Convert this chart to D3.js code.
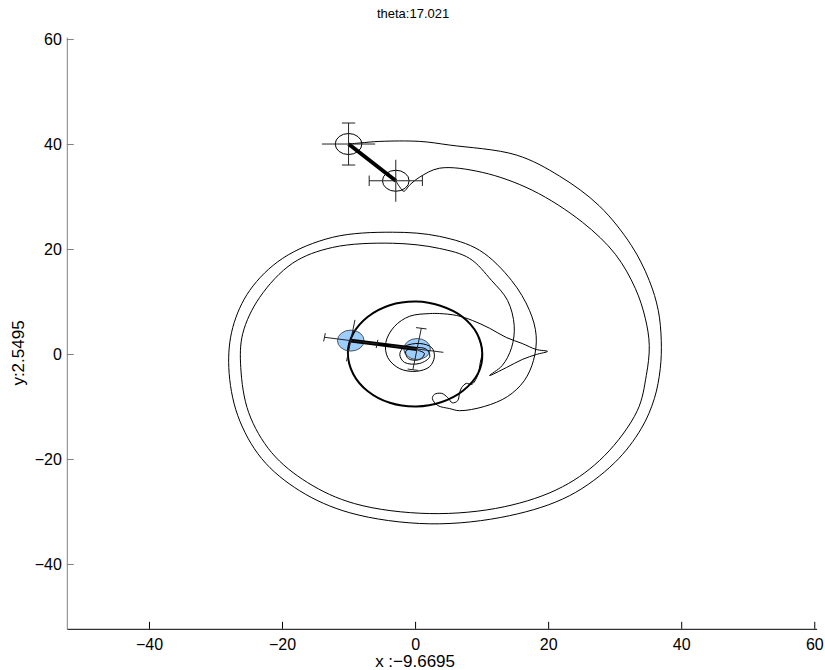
<!DOCTYPE html>
<html>
<head>
<meta charset="utf-8">
<script src="https://cdn.jsdelivr.net/npm/d3@7"></script>
<style>
  body { margin: 0; background: #fff; }
  svg { display: block; font-family: "Liberation Sans", Arial, sans-serif; }
  .trace { fill: none; stroke: #000; stroke-width: 1; }
  .ring { fill: none; stroke: #000; stroke-width: 2; }
  .err { stroke: #222; stroke-width: 1; }
  .rod { stroke: #000; stroke-width: 4; stroke-linecap: butt; }
</style>
</head>
<body>
<div id="chart"></div>
<script>
// axis ticks
var xTicks = [-40, -20, 0, 20, 40, 60];
var yTicks = [-40, -20, 0, 20, 40, 60];

var titleText = "theta:17.021";
var xLabelText = "x :\u22129.6695";
var yLabelText = "y:2.5495";

// trace of the upper rod's first end (data units)
var traceA = [
  [-10.0, 40.0], [-8.3, 40.2], [-5.3, 40.5], [0.7, 40.5], [5.2, 39.8], [15.24, 37.9],
  [21.7, 33.9], [27.7, 28.2], [32.5, 20.7], [35.2, 14.0], [36.55, 8.3], [37.0, 2.6],
  [36.85, -2.8], [35.96, -8.5], [34.0, -14.2], [30.0, -20.7], [23.2, -27.0], [14.2, -30.8],
  [2.2, -32.35], [-9.8, -30.25], [-17.35, -26.05], [-23.05, -19.94], [-26.65, -11.74],
  [-28.0, -2.58], [-27.4, 5.06], [-24.85, 12.12], [-19.9, 18.23], [-12.4, 22.23],
  [-3.4, 23.2], [3.7, 22.4], [9.7, 19.75], [14.5, 14.0], [17.2, 8.3], [18.2, 3.5],
  [17.8, -1.2], [16.4, -5.1], [13.9, -8.1], [10.4, -10.0], [6.7, -10.8], [5.2, -10.4],
  [3.4, -9.8], [2.6, -8.5], [2.9, -7.7], [4.0, -7.5], [4.9, -8.3], [5.6, -9.3], [6.4, -8.9],
  [6.7, -7.35], [7.0, -6.4], [7.7, -5.6], [8.5, -5.8], [9.4, -4.1], [9.8, -1.6],
  [10.1, 0.7], [9.5, 3.15]
];

// trace of the upper rod's second end
var traceB = [
  [-2.9, 33.0], [-2.3, 31.8], [-1.7, 31.0], [-0.8, 32.2], [0.7, 33.7], [3.7, 35.4],
  [10.1, 34.6], [17.6, 31.2], [25.15, 25.1], [30.1, 19.0], [33.1, 12.5], [34.6, 6.8],
  [35.2, 1.6], [34.75, -4.1], [33.4, -10.8], [28.45, -19.4], [22.15, -25.3], [13.4, -29.1],
  [2.2, -30.4], [-9.1, -28.5], [-16.15, -24.5], [-21.55, -18.8], [-25.0, -11.2],
  [-26.2, -2.6], [-25.9, 3.9], [-23.35, 10.8], [-18.4, 17.3], [-12.4, 20.3], [-3.4, 21.1],
  [3.7, 20.1], [8.2, 18.2], [11.5, 14.0], [13.9, 10.2], [14.9, 5.4], [14.5, 1.2],
  [13.1, -2.2], [11.2, -4.1], [13.7, -2.6], [16.1, -1.05], [18.2, -0.1], [19.9, 0.5],
  [18.2, 0.86], [16.1, 2.0], [13.7, 3.15], [11.2, 4.9], [8.6, 6.4], [6.2, 7.35], [3.7, 7.7],
  [2.2, 7.7], [-0.8, 7.2], [-3.1, 5.25], [-4.4, 2.2], [-4.1, -0.7], [-2.3, -2.8],
  [0.2, -3.3], [2.2, -2.4], [2.9, -0.5], [2.5, 1.2], [0.7, 2.0], [-1.6, 1.4], [-2.3, -0.1],
  [-1.6, -1.6], [0.7, -1.8], [2.2, -0.5], [1.7, 0.9], [0.0, 1.2], [-1.4, 0.5], [-1.0, -0.9],
  [0.7, -1.05], [1.4, 0.1], [0.4, 0.7]
];

// the heavy circle round the origin
var ring = [
  [10.1, 0.1], [9.3, 3.9], [7.1, 7.1], [3.8, 9.2], [0.2, 10.0], [-3.8, 9.3], [-7.1, 7.1],
  [-9.3, 3.9], [-10.1, 0.3], [-9.3, -3.8], [-7.1, -7.1], [-3.8, -9.3], [0.2, -10.0],
  [3.9, -9.2], [7.2, -7.0], [9.5, -3.6]
];

var topRod = [[-10.0, 40.0], [-2.9, 33.0]];
var midRod = [[-9.67, 2.55], [0.3, 0.95]];
var bobRadius = 2;
var armLen = 4;

var margin = { top: 37.2, right: 8.4, bottom: 41.2, left: 66.8 },
    width = 825 - margin.left - margin.right,
    height = 670 - margin.top - margin.bottom;

var svg = d3.select("#chart")
    .append("svg")
    .attr("width", 825)
    .attr("height", 670)
    .append("g")
    .attr("transform", "translate(" + margin.left + "," + margin.top + ")");

var x = d3.scaleLinear().domain([-52.35, 60.35]).range([0, width]);
var y = d3.scaleLinear().domain([-52.35, 60.35]).range([height, 0]);
var kx = x(1) - x(0), ky = y(0) - y(1);

// axes (ticks point inward, no box)
var gx = svg.append("g")
    .attr("transform", "translate(0," + height + ")")
    .call(d3.axisBottom(x).tickValues(xTicks).tickSizeInner(-7).tickSizeOuter(0).tickPadding(10));
gx.select(".domain").attr("stroke", "#000");
gx.selectAll(".tick line").attr("stroke", "#000");

var gy = svg.append("g")
    .call(d3.axisLeft(y).tickValues(yTicks).tickSizeInner(-7).tickSizeOuter(0).tickPadding(5));
gy.select(".domain").attr("stroke", "#808080");
gy.selectAll(".tick line").attr("stroke", "#808080");

svg.selectAll(".tick text")
    .attr("font-family", "'Liberation Sans', Arial, sans-serif")
    .attr("font-size", 16)
    .attr("fill", "#000");

// blue bob fills go under the traces
svg.selectAll(".bobfill")
    .data(midRod)
    .enter().append("ellipse")
    .attr("cx", function(d) { return x(d[0]); })
    .attr("cy", function(d) { return y(d[1]); })
    .attr("rx", bobRadius * kx)
    .attr("ry", bobRadius * ky)
    .attr("fill", "#9cceff");

var line = d3.line()
    .x(function(d) { return x(d[0]); })
    .y(function(d) { return y(d[1]); })
    .curve(d3.curveCatmullRom.alpha(0.5));

svg.append("path").datum(traceA).attr("class", "trace").attr("d", line);
svg.append("path").datum(traceB).attr("class", "trace").attr("d", line);
svg.append("path").datum(ring).attr("class", "ring")
    .attr("d", line.curve(d3.curveCatmullRomClosed.alpha(0.5)));

// bob outlines
svg.selectAll(".bobline")
    .data(midRod)
    .enter().append("ellipse")
    .attr("cx", function(d) { return x(d[0]); })
    .attr("cy", function(d) { return y(d[1]); })
    .attr("rx", bobRadius * kx)
    .attr("ry", bobRadius * ky)
    .attr("fill", "none")
    .attr("stroke", "#333")
    .attr("stroke-width", 0.8);

svg.selectAll(".ring2")
    .data(topRod)
    .enter().append("ellipse")
    .attr("cx", function(d) { return x(d[0]); })
    .attr("cy", function(d) { return y(d[1]); })
    .attr("rx", bobRadius * kx)
    .attr("ry", bobRadius * ky)
    .attr("fill", "none")
    .attr("stroke", "#000")
    .attr("stroke-width", 1);

// rods
[topRod, midRod].forEach(function(r) {
    svg.append("line")
        .attr("class", "rod")
        .attr("x1", x(r[0][0])).attr("y1", y(r[0][1]))
        .attr("x2", x(r[1][0])).attr("y2", y(r[1][1]));
});

// crosses: arm along u and arm along p, one of them capped
function seg(a, b) {
    svg.append("line").attr("class", "err")
        .attr("x1", x(a[0])).attr("y1", y(a[1]))
        .attr("x2", x(b[0])).attr("y2", y(b[1]));
}
function cross(c, u, cappedAlongU, cap) {
    var p = [-u[1], u[0]];
    var cu = cappedAlongU ? u : p, cp = cappedAlongU ? p : u;
    seg([c[0] - armLen * u[0], c[1] - armLen * u[1]], [c[0] + armLen * u[0], c[1] + armLen * u[1]]);
    seg([c[0] - armLen * p[0], c[1] - armLen * p[1]], [c[0] + armLen * p[0], c[1] + armLen * p[1]]);
    [-1, 1].forEach(function(s) {
        var e = [c[0] + s * armLen * cu[0], c[1] + s * armLen * cu[1]];
        seg([e[0] - cap * cp[0], e[1] - cap * cp[1]], [e[0] + cap * cp[0], e[1] + cap * cp[1]]);
    });
}

cross(topRod[0], [1, 0], false, 1.0);
cross(topRod[1], [1, 0], true, 1.0);

var dx = midRod[1][0] - midRod[0][0], dy = midRod[1][1] - midRod[0][1];
var len = Math.sqrt(dx * dx + dy * dy);
var u = [dx / len, dy / len];
cross(midRod[0], u, true, 0.8);
cross(midRod[1], u, false, 0.8);

// texts
svg.append("text")
    .attr("x", x(0) - 2).attr("y", -19)
    .attr("text-anchor", "middle")
    .attr("font-size", 13)
    .text(titleText);

svg.append("text")
    .attr("x", x(0)).attr("y", height + 38)
    .attr("text-anchor", "middle")
    .attr("font-size", 17)
    .text(xLabelText);

svg.append("text")
    .attr("transform", "translate(" + (-43) + "," + (y(0) - 1) + ") rotate(-90)")
    .attr("text-anchor", "middle")
    .attr("font-size", 17)
    .text(yLabelText);
</script>
</body>
</html>
